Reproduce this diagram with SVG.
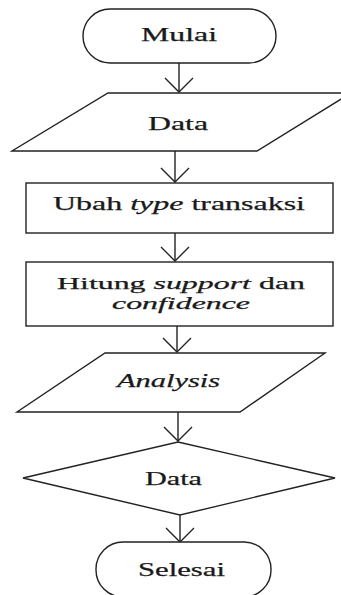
<svg xmlns="http://www.w3.org/2000/svg" width="341" height="595" viewBox="0 0 341 595">
<defs>
<style>
.s{fill:#fff;stroke:#222;stroke-width:1.4}
.t{font-family:"Liberation Serif","Times New Roman",serif;font-size:19px;fill:#1a1a1a;stroke:#1a1a1a;stroke-width:0.25}
.h{font-size:17px}
.i{font-style:italic}
.c{fill:none;stroke:#222;stroke-width:1.4}
</style>
<marker id="ah" markerUnits="userSpaceOnUse" orient="auto" markerWidth="30" markerHeight="30" refX="0" refY="0" overflow="visible">
<path d="M-14,-14 L0,0 L-14,14" fill="none" stroke="#222" stroke-width="1.4"/>
</marker>
</defs>
<rect width="341" height="595" fill="#fff"/>
<g id="connectors">
<line class="c" x1="179" y1="63" x2="179" y2="92" marker-end="url(#ah)"/>
<line class="c" x1="175" y1="151" x2="175" y2="182" marker-end="url(#ah)"/>
<line class="c" x1="175" y1="233" x2="175" y2="261" marker-end="url(#ah)"/>
<line class="c" x1="177" y1="326" x2="177" y2="352" marker-end="url(#ah)"/>
<line class="c" x1="178" y1="412" x2="178" y2="441" marker-end="url(#ah)"/>
<line class="c" x1="180" y1="515" x2="180" y2="542" marker-end="url(#ah)"/>
</g>
<g id="mulai">
<rect class="s" x="83" y="9" width="193" height="54" rx="27" ry="27"/>
<text class="t" x="141" y="41" textLength="76" lengthAdjust="spacingAndGlyphs">Mulai</text>
</g>
<g id="data1">
<polygon class="s" points="108,93 351,93 257,151 12,151"/>
<text class="t" x="148" y="130" textLength="60" lengthAdjust="spacingAndGlyphs">Data</text>
</g>
<g id="ubah">
<rect class="s" x="26" y="183" width="307" height="50"/>
<text class="t" x="53" y="210" textLength="252" lengthAdjust="spacingAndGlyphs">Ubah <tspan class="i">type</tspan> transaksi</text>
</g>
<g id="hitung">
<rect class="s" x="26" y="262" width="307" height="64"/>
<text class="t h" x="57" y="289" textLength="248" lengthAdjust="spacingAndGlyphs">Hitung <tspan class="i">support</tspan> dan</text>
<text class="t h i" x="112" y="309" textLength="138" lengthAdjust="spacingAndGlyphs">confidence</text>
</g>
<g id="analysis">
<polygon class="s" points="105,353 325,353 240,412 17,412"/>
<text class="t i" x="117" y="387" textLength="103" lengthAdjust="spacingAndGlyphs">Analysis</text>
</g>
<g id="data2">
<polygon class="s" points="178,442 335,478 180,515 23,478"/>
<text class="t" x="145" y="485" textLength="57" lengthAdjust="spacingAndGlyphs">Data</text>
</g>
<g id="selesai">
<rect class="s" x="96" y="542" width="175" height="55" rx="27" ry="27"/>
<text class="t" x="138" y="576" textLength="87" lengthAdjust="spacingAndGlyphs">Selesai</text>
</g>
</svg>
